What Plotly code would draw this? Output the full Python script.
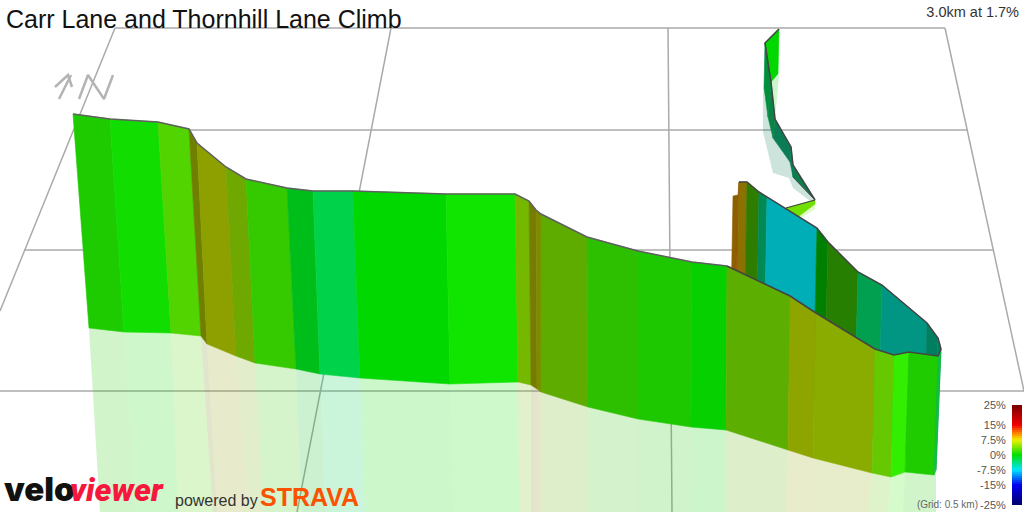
import plotly.graph_objects as go

# Climb profile drawn as a ribbon: pixel-space vertices of the near stretch of road
near_top_x = [73, 110, 158, 189, 197, 226, 246, 287, 313, 353, 446, 515, 529, 536, 541, 587, 638, 692, 727, 790, 816, 875, 894, 909, 938, 941]
near_top_y = [114, 119, 122, 129, 143, 167, 179, 188, 191, 191, 194, 194, 201, 210, 214, 237, 251, 262, 266, 296, 313, 349, 355, 352, 356, 349]
near_base_x = [89, 124, 171, 201, 207, 236, 255, 296, 320, 360, 450, 518, 531, 537, 541, 588, 638, 691, 726, 788, 813, 872, 891, 905, 934, 936]
near_base_y = [328, 332, 333, 336, 344, 356, 363, 369, 374, 378, 384, 382, 385, 389, 392, 407, 419, 427, 430, 450, 458, 473, 477, 472, 475, 470]
near_shadow_x = [100, 136, 178, 213, 217, 248, 263, 302, 325, 365, 453, 519, 531, 537, 541, 587, 637, 690, 725, 785, 810, 867, 888, 903, 935, 936]
near_colors = ["#1ecb00", "#12dd00", "#52d400", "#6f7f00", "#8ea000", "#6ea800", "#35c900", "#00be1a", "#00d24a",
               "#00d800", "#10e500", "#74b800", "#757c00", "#808a00", "#5eac00", "#2cc000", "#1ec800", "#06d000",
               "#5cae00", "#8ea500", "#8aab00", "#66c800", "#33ee00", "#1ecc00", "#10c040"]

# Far stretch of road, passing behind the near one
far_top_x = [733, 738, 739, 747, 759, 767, 817, 828, 858, 882, 927, 938, 941]
far_top_y = [196, 195, 182, 182, 192, 197, 228, 242, 272, 285, 323, 338, 349]
far_base_x = [730, 735, 736, 744, 756, 764, 813, 824, 854, 878, 923, 934, 936]
far_base_y = [366, 365, 360, 360, 366, 370, 400, 410, 430, 440, 460, 465, 470]
far_colors = ["#8d5f00", "#9a4a00", "#8a7100", "#2e7d00", "#008a55", "#00aeb8", "#008000", "#267f00", "#00a050", "#009683", "#007f60", "#007f60"]

# Upper hairpin section of the route
bend_top_x = [815, 793, 791, 775, 771, 765]
bend_top_y = [200, 165, 147, 119, 82, 43]
bend_base_x = [815, 793, 790, 773, 768, 764]
bend_base_y = [200, 177, 162, 138, 117, 88]
bend_colors = ["#0a7f4c", "#0b7d55", "#0b7d55", "#0a8446", "#008f3c"]
bend_shadow_x = [763, 763, 773, 789, 793, 810, 815, 793, 790, 773, 768]
bend_shadow_y = [88, 132, 173, 178, 188, 201, 200, 177, 162, 138, 117]
head_x = [779, 765, 771, 778]
head_y = [29, 43, 82, 74]
head_color = "#00d800"
head_shadow_x = [779, 771, 775, 778]
head_shadow_y = [75, 82, 119, 87]
lime_x = [786, 815, 815, 798]
lime_y = [208, 200, 204, 217]
lime_color = "#70e000"
lime_shadow_x = [815, 815, 800, 798]
lime_shadow_y = [204, 209, 219, 217]

# Ground grid and compass strokes
grid_x = [[115, 945], [73, 967], [24, 993], [0, 1024], [115, 0], [945, 1024], [391, 297], [668, 672]]
grid_y = [[28, 28], [130, 130], [250, 250], [391, 391], [28, 311], [28, 391], [28, 512], [28, 512]]
compass_x = [[59, 71], [55, 68, 72], [79, 88, 104, 113]]
compass_y = [[99, 75], [87, 75, 87], [99, 75, 99, 75]]

# Gradient scale
grade_ticks = [25, 15, 7.5, 0, -7.5, -15, -25]
grade_labels = ["25%", "15%", "7.5%", "0%", "-7.5%", "-15%", "-25%"]
grade_scale = [[0, "#00006e"], [0.2, "#0000f0"], [0.35, "#00e5ff"], [0.5, "#00e000"], [0.65, "#f0f000"],
               [0.72, "#ff8000"], [0.8, "#f00000"], [1, "#780000"]]
grade_levels = list(range(-25, 26))

fig = go.Figure()


def add_poly(xs, ys, color, opacity=1.0, edge=True):
    fig.add_trace(go.Scatter(
        x=list(xs) + [xs[0]], y=list(ys) + [ys[0]], mode="lines", fill="toself",
        fillcolor=color, opacity=opacity, hoverinfo="skip", showlegend=False,
        line=dict(color=color, width=0.6 if edge else 0),
    ))


def add_line(xs, ys, color, width):
    fig.add_trace(go.Scatter(x=xs, y=ys, mode="lines", hoverinfo="skip", showlegend=False,
                             line=dict(color=color, width=width)))


for gx, gy in zip(grid_x, grid_y):
    add_line(gx, gy, "#aaaaaa", 1.5)
for cx, cy in zip(compass_x, compass_y):
    add_line(cx, cy, "#b4b4b4", 2.5)

# Ground shadows, faint copies of each ribbon panel
add_poly(head_shadow_x, head_shadow_y, head_color, 0.2, False)
add_poly(bend_shadow_x, bend_shadow_y, bend_colors[1], 0.2, False)
add_poly(lime_shadow_x, lime_shadow_y, lime_color, 0.2, False)
for i, c in enumerate(near_colors):
    add_poly([near_base_x[i], near_base_x[i + 1], near_shadow_x[i + 1], near_shadow_x[i]],
             [near_base_y[i], near_base_y[i + 1], 512, 512], c, 0.2, False)

# Ribbon panels, far to near
add_poly(lime_x, lime_y, lime_color)
add_poly(head_x, head_y, head_color)
for i, c in enumerate(bend_colors):
    add_poly([bend_top_x[i], bend_top_x[i + 1], bend_base_x[i + 1], bend_base_x[i]],
             [bend_top_y[i], bend_top_y[i + 1], bend_base_y[i + 1], bend_base_y[i]], c)
for i, c in enumerate(far_colors):
    add_poly([far_top_x[i], far_top_x[i + 1], far_base_x[i + 1], far_base_x[i]],
             [far_top_y[i], far_top_y[i + 1], far_base_y[i + 1], far_base_y[i]], c)
for i, c in enumerate(near_colors):
    add_poly([near_top_x[i], near_top_x[i + 1], near_base_x[i + 1], near_base_x[i]],
             [near_top_y[i], near_top_y[i + 1], near_base_y[i + 1], near_base_y[i]], c)

# Road surface outline
add_line(near_top_x[:19], near_top_y[:19], "#606060", 1.5)
add_line(near_top_x[18:], near_top_y[18:], "#444444", 1.5)
add_line(far_top_x[2:], far_top_y[2:], "#444444", 1.5)
add_line(bend_top_x + [head_x[1], head_x[0]], bend_top_y + [head_y[1], head_y[0]], "#444444", 1.5)
add_line(bend_base_x[:2], bend_base_y[:2], "#444444", 1.0)
add_line([lime_x[1], lime_x[0]], [lime_y[1], lime_y[0]], "#444444", 1.2)

# Gradient colour bar on its own axes, labelled by the axis ticks
fig.add_trace(go.Heatmap(
    x=[0, 1], y=grade_levels, z=[[g, g] for g in grade_levels], zmin=-25, zmax=25,
    colorscale=grade_scale, showscale=False, hoverinfo="skip", xaxis="x2", yaxis="y2",
))


def label(x, y, text, size, color, anchor="middle left", family="Liberation Sans", weight=None, style=None):
    # Text is placed as a text-only scatter point so it never affects the plot margins
    fig.add_trace(go.Scatter(
        x=[x], y=[y], text=[text], mode="text", textposition=anchor, hoverinfo="skip", showlegend=False,
        cliponaxis=False, textfont=dict(size=size, color=color, family=family, weight=weight, style=style),
    ))


label(6, 22, "Carr Lane and Thornhill Lane Climb", 25, "#111111", "middle right")
label(1019, 13, "3.0km at 1.7%", 14.5, "#333333", "middle left")
label(978, 505, "(Grid: 0.5 km)", 10, "#666666", "middle left")
label(4, 493, "velo", 33, "#111111", "middle right", "Inter", 900)
label(70, 493, "viewer", 32, "#f5173c", "middle right", "Roboto", 900, "italic")
label(175, 502, "powered by", 16, "#333333", "middle right")
label(260, 500, "STRAVA", 25, "#fc5200", "middle right", "Liberation Sans", 700)

fig.update_layout(
    width=1024, height=512, margin=dict(l=0, r=0, t=0, b=0, pad=0), autosize=False,
    paper_bgcolor="white", plot_bgcolor="white", showlegend=False,
    xaxis=dict(range=[0, 1024], visible=False, domain=[0, 1], fixedrange=True, automargin=False),
    yaxis=dict(range=[512, 0], visible=False, domain=[0, 1], fixedrange=True, automargin=False),
    xaxis2=dict(range=[-0.5, 1.5], visible=False, domain=[1012 / 1024, 1022 / 1024], anchor="y2", fixedrange=True,
                automargin=False),
    yaxis2=dict(range=[-25, 25], domain=[7 / 512, 107 / 512], anchor="x2", side="left", automargin=False,
                tickmode="array", tickvals=grade_ticks, ticktext=grade_labels, showgrid=False, zeroline=False,
                showline=False, ticks="outside", ticklen=3, tickcolor="rgba(0,0,0,0)",
                tickfont=dict(size=11, color="#555555", family="Liberation Sans")),
)

fig.write_html("out.html", config=dict(displayModeBar=False))
